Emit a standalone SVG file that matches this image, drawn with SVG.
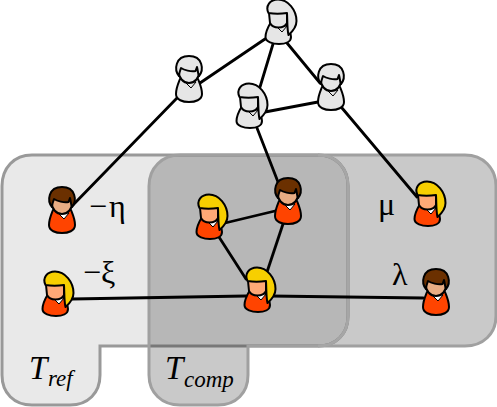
<svg xmlns="http://www.w3.org/2000/svg" width="497" height="407" viewBox="0 0 497 407">
<style>
.ol{stroke:#000;stroke-width:2;stroke-linejoin:round}
.edge{stroke:#000;stroke-width:2.8;fill:none;stroke-linecap:round}
.region{stroke-width:3}
text{font-family:"Liberation Serif",serif;fill:#000}
.g{font-size:32px}
.t{font-size:33px;font-style:italic}
.s{font-size:23px;font-style:italic}
.body{fill:var(--body)}.face{fill:var(--face)}.hair{fill:var(--hair)}.col{fill:var(--col);stroke:#000;stroke-width:1}
.red{--body:#ff4400;--col:#fff}
.brown{--hair:#6b3000;--face:#e9ad83}
.blond{--hair:#f7cf00;--face:#ffa976}
.grey{--body:#e6e6e6;--face:#e6e6e6;--hair:#e6e6e6;--col:#e6e6e6}
</style>
<defs>
<g id="male">
<path class="body ol" d="M-9,10C-11,15-13,19-13,25C-13,31-6,33,0,33C6,33,13,31,13,25C13,19,11,15,9,10Z"/>
<path class="col" d="M-4,13L2,19L7,13Z"/>
<ellipse class="face ol" cx="0" cy="2" rx="10.500" ry="12"/>
<path class="hair ol" d="M-10,7C-15,1-14,-13,0,-13C14,-13,15,1,10,7C9,5,9,2,8,-2L6.500,2C2,3-5,1-8,-1C-9,2-10,4-10,7Z"/>
</g>
<g id="female">
<path class="body ol" d="M-7,9C-10,14-12.500,19-12.500,24C-12.500,29-5,31,1,31C7,31,13,29,13,24C13,19,10,14,7,9Z"/>
<path class="col" d="M-2,13L4,19L9,13Z"/>
<path class="face ol" d="M-9,0L9,0L9,10C6,16-5,16-8,10Z"/>
<path class="hair ol" d="M-9.500,0C-13,-7-8,-13.500,0,-13.500C10,-13.500,18.500,-3,18.500,8C18.500,14,14,19,10.500,22C9,16,9.500,8,9,0C3,1-4,1-9.500,0Z"/>
</g>
</defs>
<g id="regions">
<path id="tref" class="region" fill="#e9e9e9" stroke="#999" d="M32,155H318C336,155,348,168,348,186V316C348,334,336,346,318,346H100V375C100,393,88,405,70,405H32C14,405,2,393,2,375V186C2,168,14,155,32,155Z"/>
<path id="tcomp" class="region" fill="#000" fill-opacity="0.21" stroke="#a0a0a0" d="M180,155H465C483,155,496,168,496,186V316C496,334,483,346,465,346H248V375C248,393,236,405,218,405H180C162,405,149,393,149,375V186C149,168,162,155,180,155Z"/>
<path id="tref-edge" class="region" fill="none" stroke="#a6a6a6" d="M318,155C336,155,348,168,348,186V316C348,334,336,346,318,346"/>
</g>
<g id="connectors">
<line class="edge" x1="265" y1="39" x2="200" y2="83"/>
<line class="edge" x1="273" y1="44" x2="260" y2="87"/>
<line class="edge" x1="287" y1="43" x2="320" y2="83"/>
<line class="edge" x1="265" y1="112" x2="318" y2="102"/>
<line class="edge" x1="177" y1="98" x2="73" y2="205"/>
<line class="edge" x1="257" y1="128" x2="278" y2="182"/>
<line class="edge" x1="342" y1="108" x2="417" y2="197"/>
<line class="edge" x1="225" y1="223" x2="275" y2="211"/>
<line class="edge" x1="219" y1="237" x2="246" y2="279"/>
<line class="edge" x1="283" y1="224" x2="267" y2="272"/>
<line class="edge" x1="72" y1="299" x2="246" y2="296"/>
<line class="edge" x1="270" y1="296" x2="423" y2="298"/>
</g>
<g id="g-top" class="grey"><use href="#female" x="278" y="13"/></g>
<g id="g-mid" class="grey"><use href="#female" x="249" y="97"/></g>
<g id="g-left" class="grey"><use href="#male" x="189" y="69"/></g>
<g id="g-right" class="grey"><use href="#male" x="331" y="77"/></g>
<g id="p-eta" class="red brown"><use href="#male" x="62" y="200"/></g>
<g id="p-xi" class="red blond"><use href="#female" x="55" y="285"/></g>
<g id="p-a" class="red blond"><use href="#female" x="209" y="208"/></g>
<g id="p-b" class="red brown"><use href="#male" x="288" y="191"/></g>
<g id="p-c" class="red blond"><use href="#female" x="257" y="281"/></g>
<g id="p-mu" class="red blond"><use href="#female" x="427" y="195"/></g>
<g id="p-lambda" class="red brown"><use href="#male" x="436" y="282"/></g>
<g id="labels">
<text class="g" x="89" y="217">−<tspan dx="2">η</tspan></text>
<text class="g" x="83" y="283">−ξ</text>
<text class="g" x="378" y="215">μ</text>
<text class="g" x="392" y="285">λ</text>
<text class="t" x="29" y="379">T</text>
<text class="s" x="48" y="386">ref</text>
<text class="t" x="165" y="379">T</text>
<text class="s" x="184" y="387">comp</text>
</g>
</svg>
